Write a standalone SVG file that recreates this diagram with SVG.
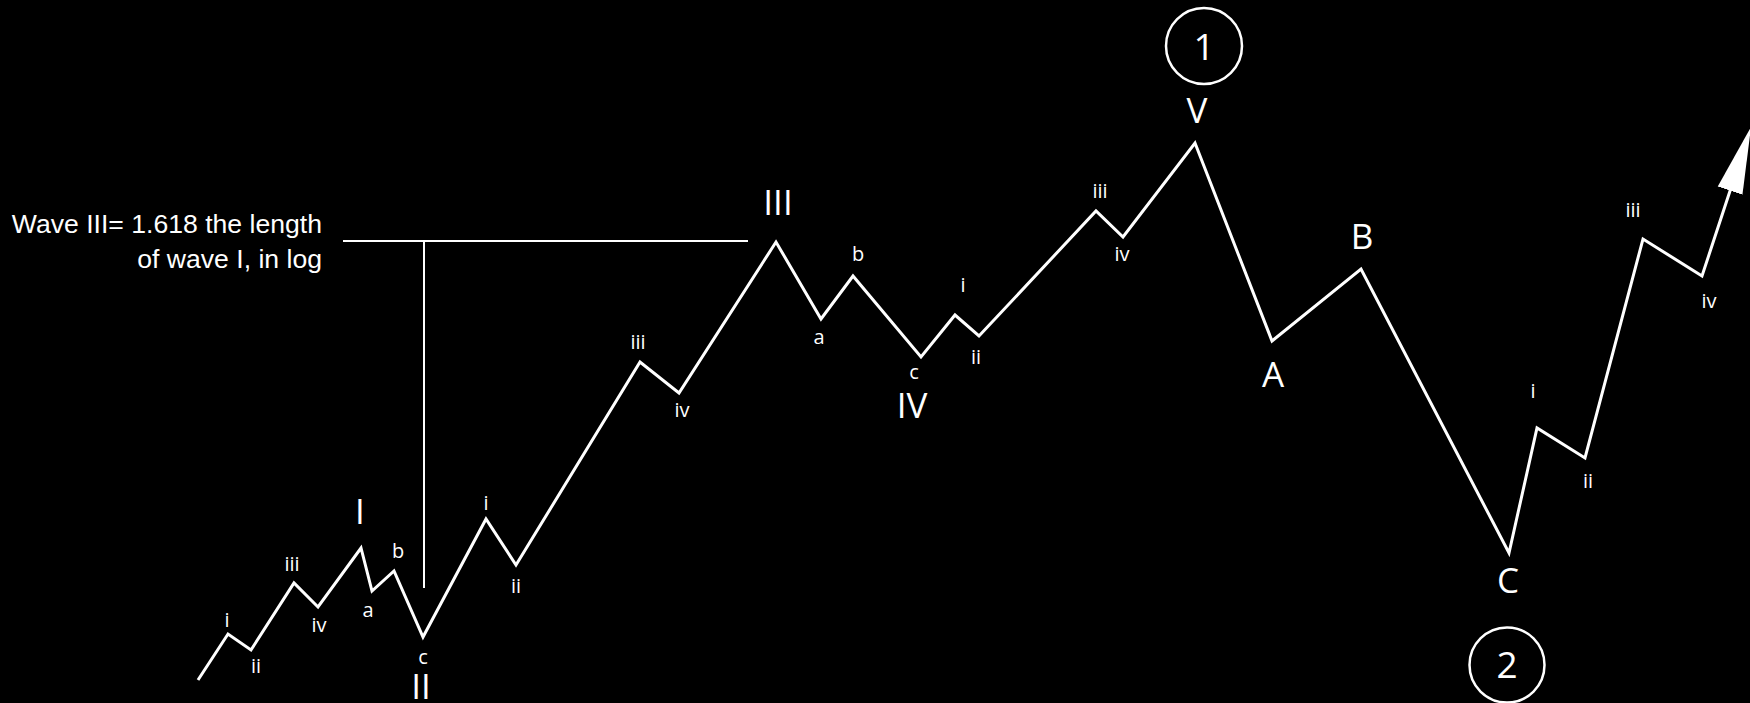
<svg xmlns="http://www.w3.org/2000/svg" width="1750" height="703" viewBox="0 0 1750 703">
  <style>
    .wave { fill: none; stroke: #ffffff; stroke-width: 3; stroke-linejoin: miter; stroke-miterlimit: 10; }
    .guide { fill: none; stroke: #ffffff; stroke-width: 2; }
    .ring { fill: none; stroke: #ffffff; stroke-width: 2.5; }
    .sm { fill: #ffffff; font-family: "Open Sans", "Noto Sans", sans-serif; font-size: 20px; text-anchor: middle; }
    .lg { fill: #ffffff; font-family: "Open Sans", "Noto Sans", sans-serif; font-size: 35px; text-anchor: middle; }
    .num { fill: #ffffff; font-family: "Open Sans", "Noto Sans", sans-serif; font-size: 37px; text-anchor: middle; }
    .note { fill: #ffffff; font-family: "Liberation Sans", Arial, sans-serif; font-size: 26.6px; text-anchor: end; }
  </style>
  <defs>
    <marker id="arrow" markerUnits="userSpaceOnUse" markerWidth="70" markerHeight="30" viewBox="0 -15 70 30" refX="1" refY="0" orient="auto">
      <path d="M0,-13 L67,0 L0,13 Z" fill="#ffffff"/>
    </marker>
  </defs>
  <rect x="0" y="0" width="1750" height="703" fill="#000000"/>

  <g id="annotation">
    <line class="guide" x1="343" y1="241" x2="748" y2="241"/>
    <line class="guide" x1="424" y1="241" x2="424" y2="588"/>
    <text class="note" x="322" y="233">Wave III= 1.618 the length</text>
    <text class="note" x="322" y="268">of wave I, in log</text>
  </g>

  <g id="connectors">
    <polyline id="wave-path" class="wave" marker-end="url(#arrow)" points="198,680 228,634 251,650 294,583 318,607 361,548 372,591 394,571 423,637 486,519 516,565 640,362 679,393 776,242 821,319 853,276 921,357 955,315 979,336 1096,211 1123,237 1195,143 1272,341 1361,269 1509,553 1537,428 1585,458 1643,239 1702,276 1730.4,189.7"/>
  </g>

  <g id="wave-I-labels">
    <text class="sm" x="227" y="627">i</text>
    <text class="sm" x="256" y="673">ii</text>
    <text class="sm" x="292" y="571">iii</text>
    <text class="sm" x="319" y="632">iv</text>
    <text class="lg" x="360" y="524">I</text>
  </g>
  <g id="wave-II-labels">
    <text class="sm" x="368" y="617">a</text>
    <text class="sm" x="398" y="558">b</text>
    <text class="sm" x="423" y="664">c</text>
    <text class="lg" x="421" y="699">II</text>
  </g>
  <g id="wave-III-labels">
    <text class="sm" x="486" y="510">i</text>
    <text class="sm" x="516" y="593">ii</text>
    <text class="sm" x="638" y="349">iii</text>
    <text class="sm" x="682" y="417">iv</text>
    <text class="lg" x="778" y="215">III</text>
  </g>
  <g id="wave-IV-labels">
    <text class="sm" x="819" y="344">a</text>
    <text class="sm" x="858" y="261">b</text>
    <text class="sm" x="914" y="379">c</text>
    <text class="lg" x="912" y="418">IV</text>
  </g>
  <g id="wave-V-labels">
    <text class="sm" x="963" y="292">i</text>
    <text class="sm" x="976" y="364">ii</text>
    <text class="sm" x="1100" y="198">iii</text>
    <text class="sm" x="1122" y="261">iv</text>
    <text class="lg" x="1197" y="123">V</text>
  </g>
  <g id="wave-1">
    <circle class="ring" cx="1204" cy="46" r="38"/>
    <text class="num" x="1204" y="60">1</text>
  </g>
  <g id="wave-ABC-labels">
    <text class="lg" x="1273" y="387">A</text>
    <text class="lg" x="1362" y="249">B</text>
    <text class="lg" x="1508" y="593">C</text>
  </g>
  <g id="wave-2">
    <circle class="ring" cx="1507" cy="665" r="37.5"/>
    <text class="num" x="1507" y="678">2</text>
  </g>
  <g id="wave-3-labels">
    <text class="sm" x="1533" y="398">i</text>
    <text class="sm" x="1588" y="488">ii</text>
    <text class="sm" x="1633" y="217">iii</text>
    <text class="sm" x="1709" y="308">iv</text>
  </g>
</svg>
